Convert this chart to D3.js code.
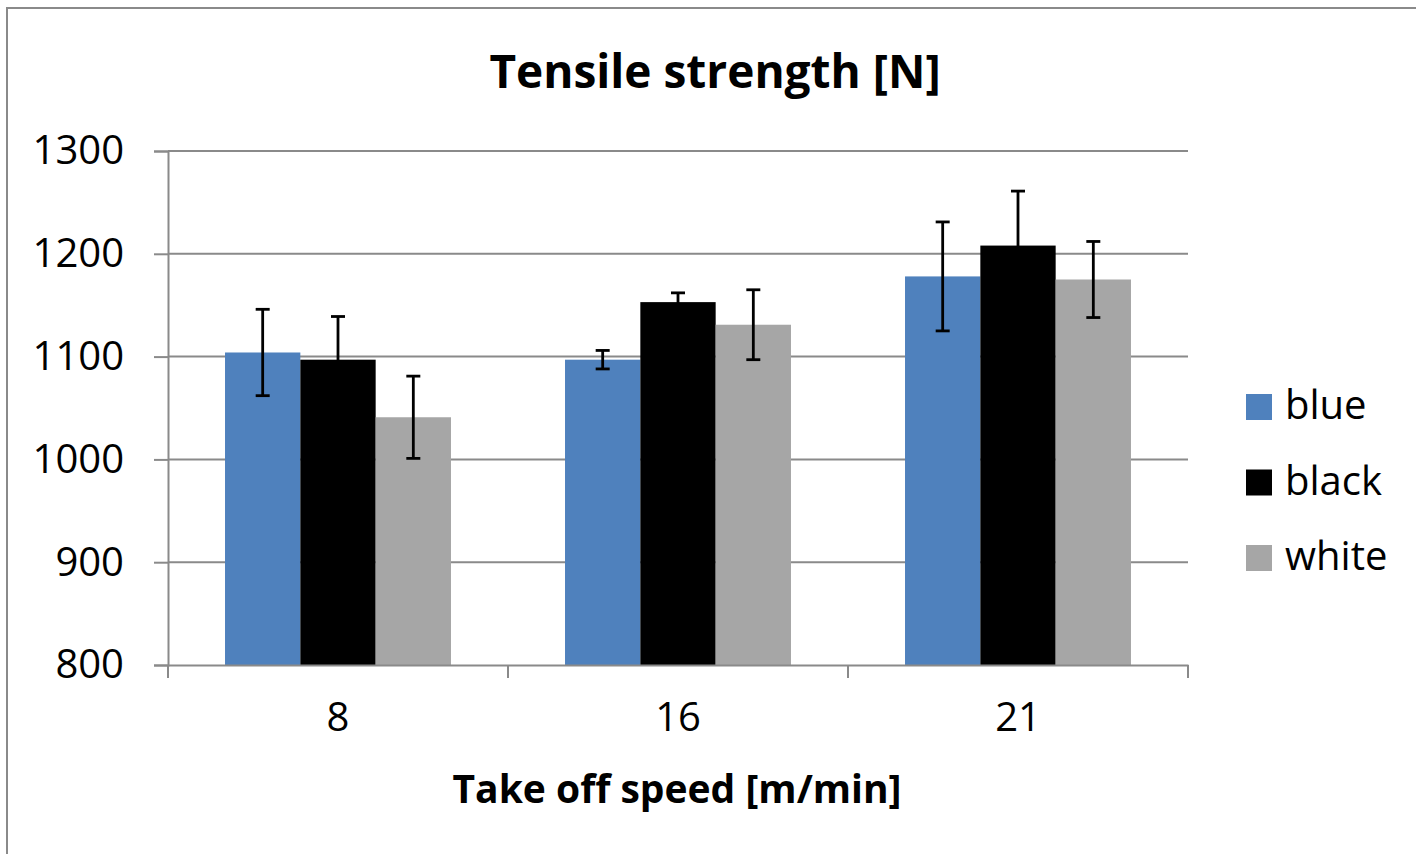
<!DOCTYPE html>
<html>
<head>
<meta charset="utf-8">
<script src="https://cdnjs.cloudflare.com/ajax/libs/d3/7.8.5/d3.min.js"></script>
<style>
  body { margin: 0; background: #fff; }
  text { font-family: "Open Sans", sans-serif; fill: #000; }
</style>
</head>
<body>
<div id="chart"></div>
<script>
// data
var speeds = ["8", "16", "21"];
var series = ["blue", "black", "white"];
var colors = ["#4f81bd", "#000000", "#a6a6a6"];
var blueVals = [1104, 1097, 1178];
var blackVals = [1097, 1153, 1208];
var whiteVals = [1041, 1131, 1175];
var blueErr = [42, 9, 53];
var blackErr = [42, 9, 53];
var whiteErr = [40, 34, 37];
var yTicks = [800, 900, 1000, 1100, 1200, 1300];

var width = 1416, height = 854;
var mLeft = 168, mRight = 1188, mTop = 151, mBottom = 665;

var svg = d3.select("#chart").append("svg")
  .attr("width", width)
  .attr("height", height);

// outer frame
svg.append("rect")
  .attr("x", 7).attr("y", 8)
  .attr("width", width + 20).attr("height", height + 20)
  .attr("fill", "none")
  .attr("stroke", "#8a8a8a")
  .attr("stroke-width", 2);

var y = d3.scaleLinear().domain([800, 1300]).range([mBottom, mTop]);
var x0 = d3.scaleBand().domain(speeds).range([mLeft, mRight]).padding(0);
var x1 = d3.scaleBand().domain(series).range([0, x0.bandwidth()])
  .paddingInner(0).paddingOuter(0.757);

// gridlines
svg.append("g").selectAll("line")
  .data(yTicks.filter(function (d) { return d > 800; }))
  .enter().append("line")
  .attr("x1", mLeft).attr("x2", mRight)
  .attr("y1", function (d) { return y(d); })
  .attr("y2", function (d) { return y(d); })
  .attr("stroke", "#8a8a8a")
  .attr("stroke-width", 2);

// y axis
var yAxis = svg.append("g")
  .attr("transform", "translate(" + mLeft + ",0)")
  .call(d3.axisLeft(y).tickValues(yTicks).tickSize(14).tickPadding(30).tickFormat(d3.format("d")));
yAxis.select(".domain").attr("stroke", "#8a8a8a").attr("stroke-width", 2);
yAxis.selectAll(".tick line").attr("stroke", "#8a8a8a").attr("stroke-width", 2);
yAxis.selectAll(".tick text").style("font-size", "40px");

// bars
var rows = speeds.map(function (s, i) {
  return [
    { speed: s, key: "blue", value: blueVals[i], err: blueErr[i], color: colors[0] },
    { speed: s, key: "black", value: blackVals[i], err: blackErr[i], color: colors[1] },
    { speed: s, key: "white", value: whiteVals[i], err: whiteErr[i], color: colors[2] }
  ];
});
var flat = [].concat.apply([], rows);

svg.append("g").selectAll("rect")
  .data(flat)
  .enter().append("rect")
  .attr("x", function (d) { return x0(d.speed) + x1(d.key); })
  .attr("y", function (d) { return y(d.value); })
  .attr("width", x1.bandwidth())
  .attr("height", function (d) { return mBottom - y(d.value); })
  .attr("fill", function (d) { return d.color; });

// x axis
var xAxis = svg.append("g")
  .attr("transform", "translate(0," + mBottom + ")")
  .call(d3.axisBottom(x0).tickSize(0).tickPadding(38));
xAxis.select(".domain").attr("stroke", "#8a8a8a").attr("stroke-width", 2);
xAxis.selectAll(".tick text").style("font-size", "40px");
svg.append("g").selectAll("line")
  .data(d3.range(speeds.length + 1))
  .enter().append("line")
  .attr("x1", function (i) { return mLeft + i * x0.step(); })
  .attr("x2", function (i) { return mLeft + i * x0.step(); })
  .attr("y1", mBottom).attr("y2", mBottom + 13)
  .attr("stroke", "#8a8a8a")
  .attr("stroke-width", 2);

// error bars
var eb = svg.append("g").selectAll("g")
  .data(flat)
  .enter().append("g")
  .attr("stroke", "#000")
  .attr("stroke-width", 2.8);
function cx(d) { return x0(d.speed) + x1(d.key) + x1.bandwidth() / 2; }
eb.append("line")
  .attr("x1", cx).attr("x2", cx)
  .attr("y1", function (d) { return y(d.value + d.err); })
  .attr("y2", function (d) { return y(d.value - d.err); });
eb.append("line")
  .attr("x1", function (d) { return cx(d) - 7; })
  .attr("x2", function (d) { return cx(d) + 7; })
  .attr("y1", function (d) { return y(d.value + d.err); })
  .attr("y2", function (d) { return y(d.value + d.err); });
eb.append("line")
  .attr("x1", function (d) { return cx(d) - 7; })
  .attr("x2", function (d) { return cx(d) + 7; })
  .attr("y1", function (d) { return y(d.value - d.err); })
  .attr("y2", function (d) { return y(d.value - d.err); });

// titles
svg.append("text")
  .attr("x", 715).attr("y", 88)
  .attr("text-anchor", "middle")
  .style("font-size", "46px").style("font-weight", "bold")
  .text("Tensile strength [N]");

svg.append("text")
  .attr("x", 677).attr("y", 803)
  .attr("text-anchor", "middle")
  .style("font-size", "39px").style("font-weight", "bold")
  .text("Take off speed [m/min]");

// legend
var legend = svg.append("g").selectAll("g")
  .data(series)
  .enter().append("g")
  .attr("transform", function (d, i) { return "translate(1246," + (394 + i * 75.5) + ")"; });
legend.append("rect")
  .attr("width", 26).attr("height", 26)
  .attr("fill", function (d, i) { return colors[i]; });
legend.append("text")
  .attr("x", 39).attr("y", 25)
  .style("font-size", "40px")
  .text(function (d) { return d; });
</script>
</body>
</html>
